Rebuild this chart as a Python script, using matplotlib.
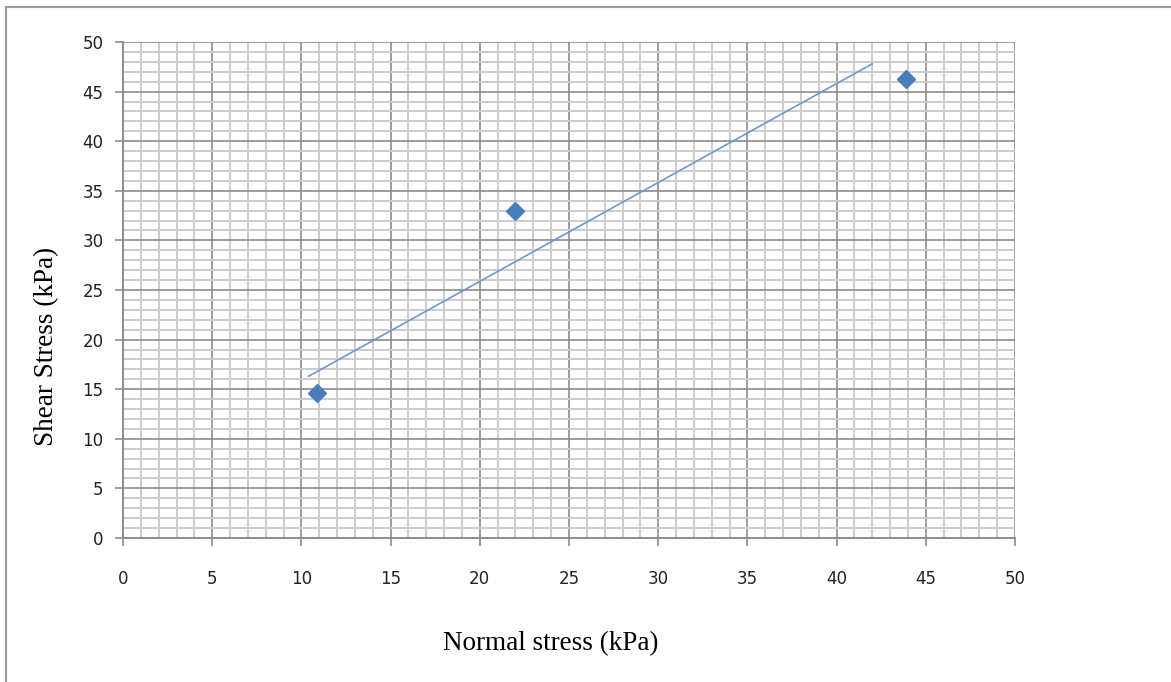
import matplotlib
matplotlib.use("Agg")
import matplotlib.pyplot as plt
from matplotlib.patches import Rectangle
from matplotlib.ticker import MultipleLocator

# measured points
normal_stress = [10.9, 22.0, 43.9]
shear_stress = [14.6, 33.0, 46.3]

# trend line as drawn in the chart
trend_x = [10.4, 42.0]
trend_y = [16.3, 47.8]

x_ticks = [0, 5, 10, 15, 20, 25, 30, 35, 40, 45, 50]
y_ticks = [0, 5, 10, 15, 20, 25, 30, 35, 40, 45, 50]

fig = plt.figure(figsize=(11.71, 6.82), dpi=100)
fig.patch.set_facecolor("white")

# outer frame (only top/left visible in the original)
fig.patches.append(Rectangle((6 / 1171, -0.05), 1.2, 1 - 7 / 682 + 0.05,
                             transform=fig.transFigure, fill=False,
                             edgecolor="#9a9a9a", linewidth=1.5))

ax = fig.add_axes([123 / 1171, 1 - 538 / 682, 892 / 1171, 496 / 682])
ax.set_xlim(0, 50)
ax.set_ylim(0, 50)

ax.xaxis.set_minor_locator(MultipleLocator(1))
ax.yaxis.set_minor_locator(MultipleLocator(1))
ax.set_xticks(x_ticks)
ax.set_yticks(y_ticks)
ax.grid(which="minor", color="#cccccc", linewidth=1.4)
ax.grid(which="major", color="#8c8c8c", linewidth=1.2)
ax.set_axisbelow(True)

for s in ["top", "right"]:
    ax.spines[s].set_visible(False)
for s in ["left", "bottom"]:
    ax.spines[s].set_color("#8c8c8c")
    ax.spines[s].set_linewidth(1.4)

ax.tick_params(which="major", length=6, width=1.2, color="#8c8c8c",
               labelsize=12, labelcolor="#222222")
ax.tick_params(axis="x", which="major", pad=17)
ax.tick_params(axis="y", which="major", pad=8)
ax.tick_params(which="minor", length=0)

ax.plot(trend_x, trend_y, color="#6f97cf", linewidth=1.2, zorder=3)
ax.plot(normal_stress, shear_stress, linestyle="none", marker="D",
        markersize=9.5, color="#4a7ebb", zorder=4, clip_on=False)

ax.set_xlabel("Normal stress (kPa)", family="Liberation Serif", fontsize=19.5,
              labelpad=31)
ax.set_ylabel("Shear Stress (kPa)", family="Liberation Serif", fontsize=19.5,
              labelpad=17)
# labels in the original sit off-centre
ax.xaxis.label.set_x(0.479)
ax.yaxis.label.set_y(0.387)

fig.savefig("out.png", dpi=100)
